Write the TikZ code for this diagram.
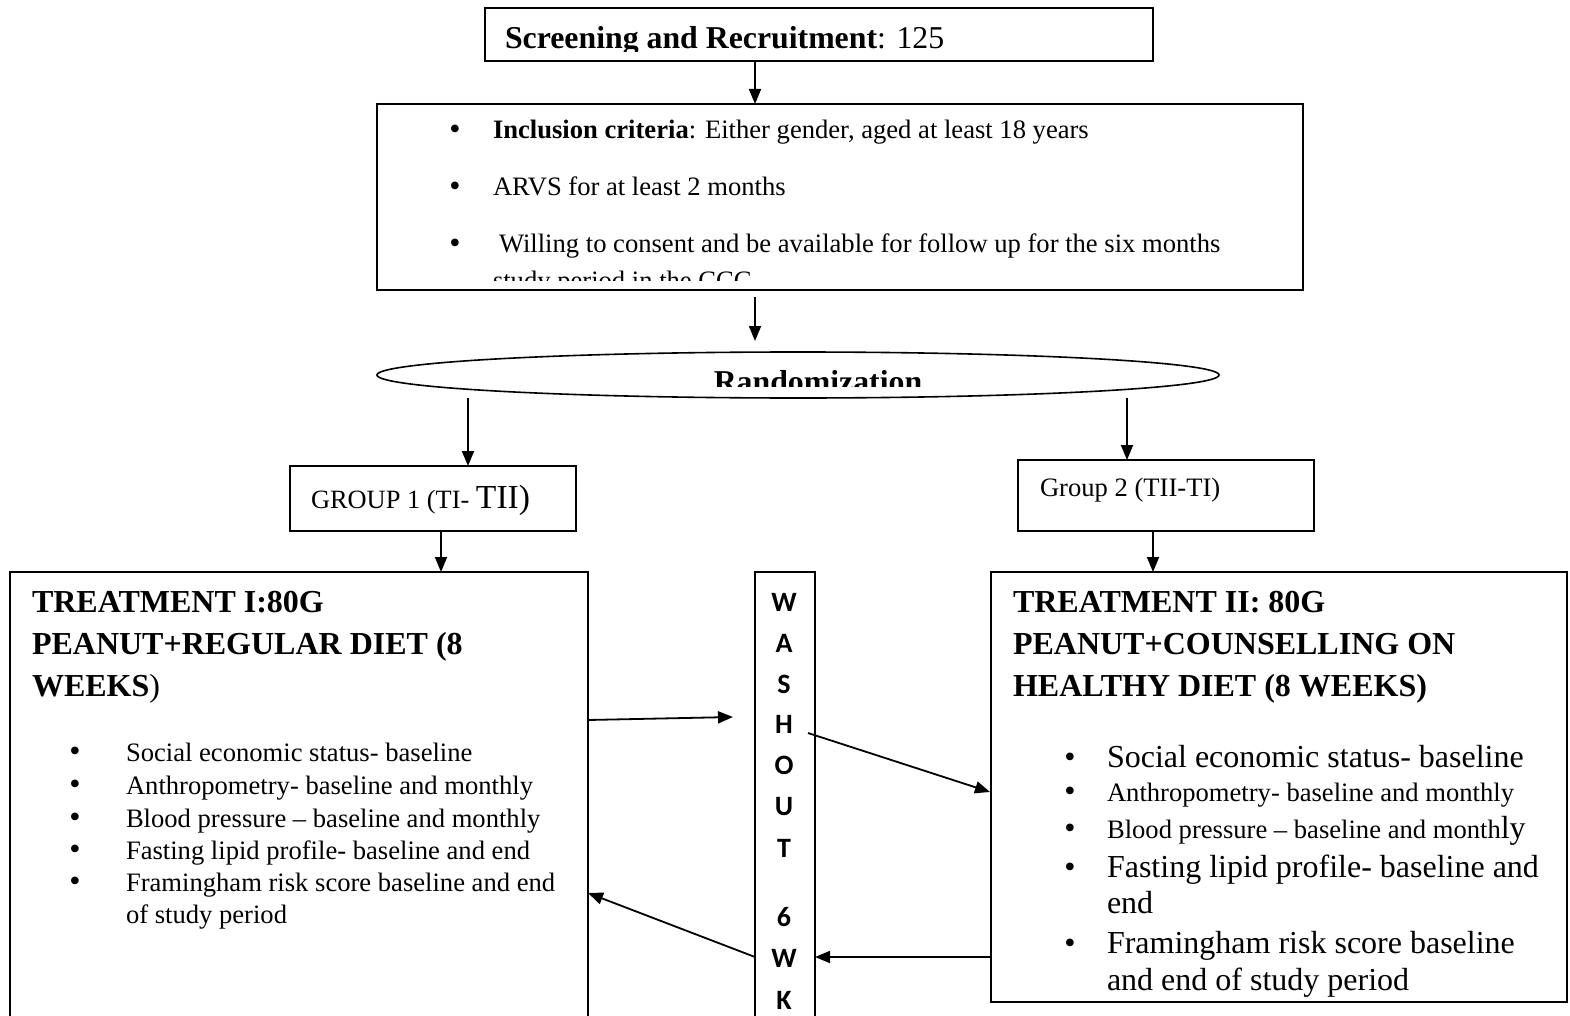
\documentclass[tikz,border=0pt]{standalone}
\usepackage{fontspec}
\setmainfont{Liberation Serif}
\newfontfamily\wfont{Carlito}
\usetikzlibrary{arrows.meta,shapes.geometric,calc}
\begin{document}
\begin{tikzpicture}[x=1pt,y=-1pt,
  bx/.style={draw,line width=1.6pt,anchor=north west,inner sep=0pt,outer sep=0pt},
  ar/.style={line width=1.8pt,-{Triangle[length=15pt,width=12pt]}},
  tx/.style={anchor=base west,inner sep=0pt,outer sep=0pt},
  bul/.style={anchor=base,inner sep=0pt,outer sep=0pt,font=\fontsize{32}{32}\selectfont},
  wl/.style={anchor=base,inner sep=0pt,outer sep=0pt,font=\wfont\bfseries\fontsize{28}{28}\selectfont},
  hd/.style={tx,font=\bfseries\fontsize{32}{32}\selectfont},
  sm/.style={tx,font=\fontsize{26.6}{26.6}\selectfont},
  md/.style={tx,font=\fontsize{26.6}{26.6}\selectfont},
  lg/.style={tx,font=\fontsize{32}{32}\selectfont}]
\useasboundingbox (0,0) rectangle (1570,1016);
\clip (0,0) rectangle (1570,1016);

% boxes
\node[bx,minimum width=668pt,minimum height=53pt] (top) at (485,8) {};
\node[bx,minimum width=926pt,minimum height=186pt] (incl) at (377,104) {};
\node[draw,ellipse,line width=1.6pt,minimum width=842pt,minimum height=46pt,inner sep=0pt,outer sep=0pt] (rand) at (798,375) {};
\node[bx,minimum width=286pt,minimum height=65pt] (g1) at (290,466) {};
\node[bx,minimum width=296pt,minimum height=71pt] (g2) at (1018,460) {};
\node[bx,minimum width=578pt,minimum height=470pt] (t1) at (10,572) {};
\node[bx,minimum width=60pt,minimum height=470pt] (wo) at (755,572) {};
\node[bx,minimum width=576pt,minimum height=430pt] (t2) at (991,572) {};

% top text (clipped)
\begin{scope}
\clip (485,8) rectangle (1153,52);
\node[tx,font=\fontsize{31.8}{31.8}\selectfont] (ttop) at (505,49) {\textbf{Screening and Recruitment}: 125};
\end{scope}

% inclusion text (clipped)
\begin{scope}
\clip (377,104) rectangle (1303,280);
\node[bul] (b1) at (455,140) {\smash{•}};
\node[md] (i1) at (493,139) {\textbf{Inclusion criteria}: Either gender, aged at least 18 years};
\node[bul] (b2) at (455,197) {\smash{•}};
\node[md] (i2) at (493,196) {ARVS for at least 2 months};
\node[bul] (b3) at (455,254) {\smash{•}};
\node[md] (i3) at (499,253) {Willing to consent and be available for follow up for the six months};
\node[md] (i4) at (493,289) {study period in the CCC};
\end{scope}

% randomization (clipped)
\begin{scope}
\clip (377,352) rectangle (1219,386);
\node[anchor=base,inner sep=0pt,font=\bfseries\fontsize{31.8}{31.8}\selectfont] (rt) at (818,392) {Randomization};
\end{scope}

% groups
\node[tx] (g1t) at (311,508) {\fontsize{26.4}{26.4}\selectfont GROUP 1 (TI- \fontsize{33.6}{33.6}\selectfont TII)};
\node[sm] (g2t) at (1040,496) {Group 2 (TII-TI)};

% treatment I
\node[hd] (h11) at (32,612) {TREATMENT I:80G};
\node[hd] (h12) at (32,654) {PEANUT+REGULAR DIET (8};
\node[hd] (h13) at (32,696) {WEEKS\mdseries)};
\foreach \y/\t [count=\i] in {761/Social economic status- baseline,794/Anthropometry- baseline and monthly,827/Blood pressure -- baseline and monthly,859/Fasting lipid profile- baseline and end,891/Framingham risk score baseline and end}{
  \node[bul] (lb\i) at (75,\y) {\smash{•}};
  \node[sm] (lt\i) at (126,\y) {\t};
}
\node[sm] (lt6) at (126,923) {of study period};

% washout
\foreach \y/\c [count=\i] in {611/W,652/A,693/S,733/H,774/O,815/U,857/T,926/6,967/W,1009/K}{
  \node[wl] (w\i) at (784,\y) {\c};
}

% treatment II
\node[hd] (h21) at (1013,612) {TREATMENT II: 80G};
\node[hd] (h22) at (1013,654) {PEANUT+COUNSELLING ON};
\node[hd] (h23) at (1013,696) {HEALTHY DIET (8 WEEKS)};
\node[bul] (rb1) at (1070,767) {\smash{•}};
\node[lg] (rt1) at (1107,767) {Social economic status- baseline};
\node[bul] (rb2) at (1070,801) {\smash{•}};
\node[sm] (rt2) at (1107,801) {Anthropometry- baseline and monthly};
\node[bul] (rb3) at (1070,838) {\smash{•}};
\node[sm] (rt3) at (1107,838) {Blood pressure -- baseline and month\fontsize{32}{32}\selectfont ly};
\node[bul] (rb4) at (1070,877) {\smash{•}};
\node[lg] (rt4) at (1107,877) {Fasting lipid profile- baseline and};
\node[lg] (rt5) at (1107,913) {end};
\node[bul] (rb5) at (1070,953) {\smash{•}};
\node[lg] (rt6) at (1107,953) {Framingham risk score baseline};
\node[lg] (rt7) at (1107,990) {and end of study period};

% connectors
\draw[ar] ([xshift=-64pt]top.south) -- ([xshift=-85pt]incl.north);
\draw[ar] ([xshift=-85pt,yshift=-7pt]incl.south) -- ([xshift=-43pt,yshift=11pt]rand.north);
\draw[ar] ([xshift=-330pt]rand.south) -- ([xshift=35pt]g1.north);
\draw[ar] ([xshift=329pt]rand.south) -- ([xshift=-39pt]g2.north);
\draw[ar] ([xshift=8pt]g1.south) -- ([xshift=142pt]t1.north);
\draw[ar] ([xshift=-13pt]g2.south) -- ([xshift=-126pt]t2.north);
\draw[ar] ($(t1.north east)+(0,148)$) -- ($(wo.north west)+(-22,145)$);
\draw[ar] ($(wo.north east)+(-7,161)$) -- ($(t2.north west)+(-1,220)$);
\draw[ar] ($(t2.north west)+(0,385)$) -- ($(wo.north east)+(0,385)$);
\draw[ar] ($(wo.north west)+(0,385)$) -- ($(t1.north east)+(0,321)$);
\end{tikzpicture}
\end{document}
